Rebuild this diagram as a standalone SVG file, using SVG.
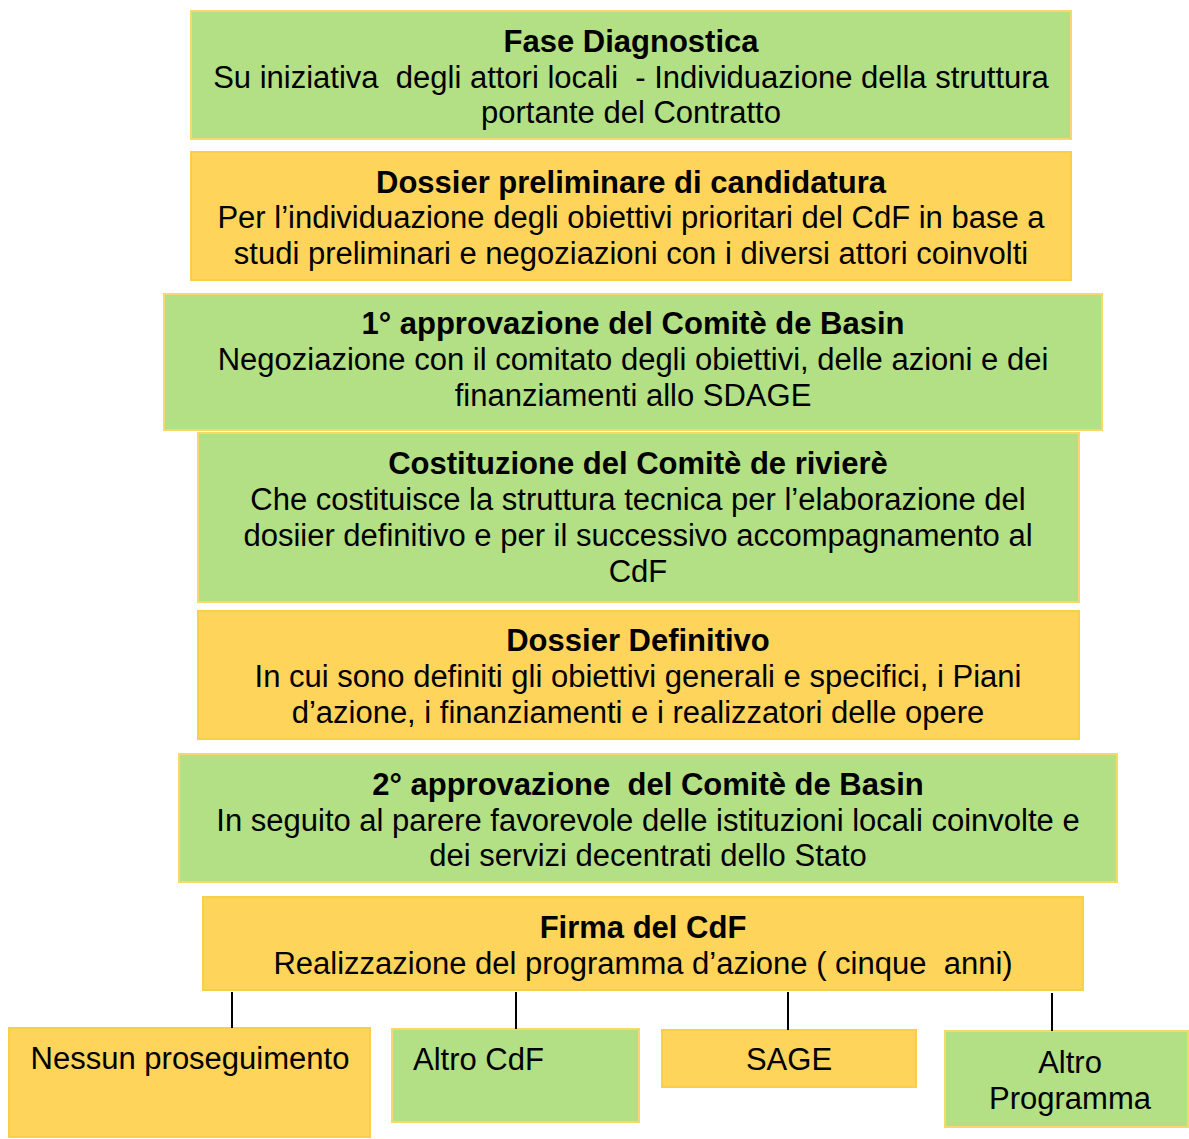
<svg xmlns="http://www.w3.org/2000/svg" width="1189" height="1139" viewBox="0 0 1189 1139">
<style>
.g{fill:#b3df85;stroke:#f7d86a;stroke-width:2}
.o{fill:#ffd45a;stroke:#f9cf4a;stroke-width:2}
text{font-family:"Liberation Sans",Arial,sans-serif;font-size:31px;fill:#000;text-anchor:middle;white-space:pre}
.b{font-weight:bold}
.c{stroke:#000;stroke-width:2}
</style>
<rect width="1189" height="1139" fill="#fff"/>
<g id="n1"><rect class="g" x="191" y="11" width="880" height="128"/>
<text x="631" y="52" class="b">Fase Diagnostica</text>
<text x="631" y="88" xml:space="preserve">Su iniziativa  degli attori locali  - Individuazione della struttura</text>
<text x="631" y="123">portante del Contratto</text></g>
<g id="n2"><rect class="o" x="191" y="152" width="880" height="128"/>
<text x="631" y="193" class="b">Dossier preliminare di candidatura</text>
<text x="631" y="228">Per l’individuazione degli obiettivi prioritari del CdF in base a</text>
<text x="631" y="264">studi preliminari e negoziazioni con i diversi attori coinvolti</text></g>
<g id="n3"><rect class="g" x="164" y="294" width="938" height="136"/>
<text x="633" y="334" class="b">1° approvazione del Comitè de Basin</text>
<text x="633" y="370">Negoziazione con il comitato degli obiettivi, delle azioni e dei</text>
<text x="633" y="406">finanziamenti allo SDAGE</text></g>
<g id="n4"><rect class="g" x="198" y="433" width="881" height="169"/>
<text x="638" y="474" class="b">Costituzione del Comitè de rivierè</text>
<text x="638" y="510">Che costituisce la struttura tecnica per l’elaborazione del</text>
<text x="638" y="546">dosiier definitivo e per il successivo accompagnamento al</text>
<text x="638" y="582">CdF</text></g>
<g id="n5"><rect class="o" x="198" y="611" width="881" height="128"/>
<text x="638" y="651" class="b">Dossier Definitivo</text>
<text x="638" y="687">In cui sono definiti gli obiettivi generali e specifici, i Piani</text>
<text x="638" y="723">d’azione, i finanziamenti e i realizzatori delle opere</text></g>
<g id="n6"><rect class="g" x="179" y="754" width="938" height="128"/>
<text x="648" y="795" class="b" xml:space="preserve">2° approvazione  del Comitè de Basin</text>
<text x="648" y="831">In seguito al parere favorevole delle istituzioni locali coinvolte e</text>
<text x="648" y="866">dei servizi decentrati dello Stato</text></g>
<g id="n7"><rect class="o" x="203" y="897" width="880" height="93"/>
<text x="643" y="938" class="b">Firma del CdF</text>
<text x="643" y="974" xml:space="preserve">Realizzazione del programma d’azione ( cinque  anni)</text></g>
<g id="n8"><rect class="o" x="9" y="1028" width="361" height="109"/>
<text x="190" y="1069">Nessun proseguimento</text></g>
<g id="n9"><rect class="g" x="392" y="1029" width="247" height="93"/>
<text x="413" y="1070" style="text-anchor:start">Altro CdF</text></g>
<g id="n10"><rect class="o" x="662" y="1030" width="254" height="57"/>
<text x="789" y="1070">SAGE</text></g>
<g id="n11"><rect class="g" x="945" y="1031" width="243" height="96"/>
<text x="1070" y="1073">Altro</text>
<text x="1070" y="1109">Programma</text></g>
<g id="connectors">
<line class="c" x1="232" y1="992" x2="232" y2="1028"/>
<line class="c" x1="516" y1="992" x2="516" y2="1029"/>
<line class="c" x1="788" y1="992" x2="788" y2="1030"/>
<line class="c" x1="1052" y1="993" x2="1052" y2="1031"/>
</g>
</svg>
